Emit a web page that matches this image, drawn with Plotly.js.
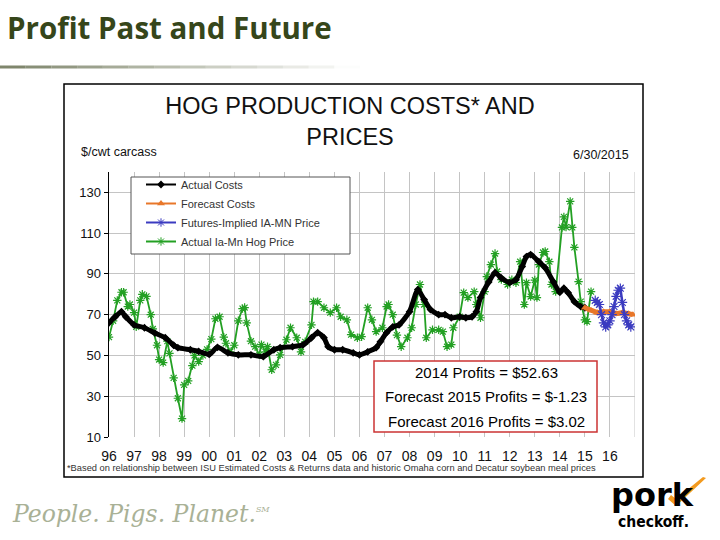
<!DOCTYPE html>
<html>
<head>
<meta charset="utf-8">
<script src="https://cdn.plot.ly/plotly-3.0.1.min.js"></script>
<style>html,body{margin:0;padding:0;background:#fff;}#chart{width:720px;height:540px;}</style>
</head>
<body>
<div id="chart"></div>
<script>
// ---------- data ----------
const costDates = ['1996-01','1996-04','1996-07','1996-09','1997-01','1997-06','1997-11','1998-04','1998-08','1998-10',
  '1999-04','1999-08','2000-01','2000-05','2000-10','2001-03','2001-09','2002-03','2002-08','2002-11',
  '2003-05','2003-10','2004-02','2004-05','2004-08','2004-10','2005-01','2005-05','2005-10','2006-01',
  '2006-05','2006-09','2006-11','2007-02','2007-05','2007-08','2008-01','2008-05','2008-08','2008-11',
  '2009-03','2009-06','2009-09','2010-01','2010-04','2010-07','2010-09','2010-11','2011-03','2011-06',
  '2011-09','2012-01','2012-04','2012-07','2012-09','2012-11','2013-03','2013-06','2013-10','2014-01',
  '2014-03','2014-05','2014-08','2014-11','2015-01'];
const costValues = [66,69,71.5,69,65,63.6,61,58.7,55,53.8,
  52.8,52,50.5,54,51.3,50.3,50.3,49.4,52.8,53.8,
  54.3,55.2,58.7,61.2,58.7,54.3,52.8,52.8,51.3,50.3,
  51.8,53.8,56.7,61.2,64,65,71.5,82.3,77.4,72.5,
  70,70,68.5,69,68.5,69,71.5,78.4,86,90.6,
  88,85.7,87.2,93.6,98.5,99.5,96,93,86,81,
  83,80.8,76.4,74,73.4];

const forecastCostDates = ['2015-01','2015-04','2015-07','2015-10','2016-01','2016-04','2016-07','2016-10','2016-12'];
const forecastCostValues = [73.4,72,71,71.5,71.5,70.5,71,70.5,70];

const futuresDates = ['2015-06','2015-07','2015-08','2015-09','2015-10','2015-11','2015-12','2016-01','2016-02',
  '2016-03','2016-04','2016-05','2016-06','2016-07','2016-08','2016-09','2016-10','2016-11'];
const futuresValues = [77,76,75,70,66,64,65,67,70,74,79,82,83,76,70,67,65,64];

const priceDates = ['1996-01','1996-03','1996-05','1996-07','1996-08','1996-10','1996-11','1997-01','1997-02','1997-04',
  '1997-05','1997-07','1997-09','1997-10','1997-12','1998-01','1998-03','1998-05','1998-06','1998-08',
  '1998-10','1998-12','1999-01','1999-03','1999-05','1999-06','1999-08','1999-10','1999-12','2000-02',
  '2000-04','2000-06','2000-08','2000-09','2000-11','2001-01','2001-03','2001-05','2001-06','2001-07',
  '2001-09','2001-11','2002-01','2002-02','2002-04','2002-05','2002-07','2002-09','2002-11','2003-02',
  '2003-04','2003-07','2003-09','2003-11','2004-02','2004-03','2004-05','2004-08','2004-11','2005-02',
  '2005-04','2005-07','2005-09','2005-12','2006-02','2006-05','2006-07','2006-09','2006-12','2007-02',
  '2007-03','2007-05','2007-07','2007-09','2007-12','2008-02','2008-04','2008-06','2008-08','2008-09',
  '2008-12','2009-03','2009-05','2009-07','2009-09','2009-10','2010-01','2010-03','2010-05','2010-08',
  '2010-09','2010-11','2011-01','2011-02','2011-04','2011-06','2011-07','2011-09','2011-12','2012-02',
  '2012-04','2012-06','2012-08','2012-09','2012-11','2013-01','2013-02','2013-03','2013-05','2013-06',
  '2013-08','2013-09','2013-11','2014-02','2014-03','2014-04','2014-06','2014-07','2014-08','2014-10',
  '2014-11','2015-01','2015-02','2015-04'];
const priceValues = [59,67,77,81,81,74,75,71,64,77,
  80,79,70,63,55,48,46.5,57,51,39,
  29,19,35.6,37.5,45,50,47,50,53,58,
  68,69,59,56,51.8,55,67,73,73.5,66,
  57,54.3,50.3,55.3,51.8,54.3,43,45.4,50.3,57.7,
  63.6,58.7,51.8,56.7,65,76.4,76.4,73.4,71,73.4,
  69,67.5,60.2,58.7,59.2,73.4,67.5,61.7,63.6,74,
  75,70,60,54.3,58.7,63.6,75,84.8,75,58.7,
  62.6,62.6,61.7,54.3,55.3,63.6,69,80.8,78.4,81.3,
  75,68.5,81.3,88.7,94.6,100,91.2,87.2,84.8,87.2,
  85.7,96,75,85.7,78.9,87,78.4,94.6,100.5,101,
  96,84.8,81.3,112.8,118,113,125.6,112.8,103,86.2,
  76.4,67.5,66.6,81.3];

const seriesNames = ['Actual Costs','Forecast Costs','Futures-Implied IA-MN Price','Actual Ia-Mn Hog Price'];
const tickYears = [1996,1997,1998,1999,2000,2001,2002,2003,2004,2005,2006,2007,2008,2009,2010,2011,2012,2013,2014,2015,2016];
const tickLabels = ['96','97','98','99','00','01','02','03','04','05','06','07','08','09','10','11','12','13','14','15','16'];
const yTicks = [10,30,50,70,90,110,130];
const profitLines = ['2014 Profits = $52.63','Forecast 2015 Profits = $-1.23','Forecast 2016 Profits = $3.02'];

// ---------- styling ----------
const C_BLACK = '#000000', C_ORANGE = '#e8772a', C_BLUE = '#3b3bc0', C_GREEN = '#23a023';
const FONT = 'Liberation Sans, Arial, sans-serif';
const P = x => x / 720;          // pixel -> paper x
const Q = y => 1 - y / 540;      // pixel -> paper y

const traces = [
  {x: priceDates, y: priceValues, name: seriesNames[3], mode: 'lines+markers', showlegend: false,
   line: {color: C_GREEN, width: 1.8}, marker: {symbol: 'asterisk-open', size: 7, color: C_GREEN, line: {color: C_GREEN, width: 1.2}}},
  {x: costDates, y: costValues, name: seriesNames[0], mode: 'lines+markers', showlegend: false,
   line: {color: C_BLACK, width: 5, shape: 'spline', smoothing: 0.6}, marker: {symbol: 'diamond', size: 6, color: C_BLACK}},
  {x: forecastCostDates, y: forecastCostValues, name: seriesNames[1], mode: 'lines+markers', showlegend: false,
   line: {color: C_ORANGE, width: 5}, marker: {symbol: 'triangle-up', size: 7, color: C_ORANGE}},
  {x: futuresDates, y: futuresValues, name: seriesNames[2], mode: 'lines+markers', showlegend: false,
   line: {color: C_BLUE, width: 2.5}, marker: {symbol: 'asterisk-open', size: 8, color: C_BLUE, line: {color: C_BLUE, width: 1.2}}},
  // legend entries (thin line samples, no data)
  {x: [null], y: [null], name: seriesNames[0], mode: 'lines+markers', line: {color: C_BLACK, width: 2}, marker: {symbol: 'diamond', size: 6, color: C_BLACK}},
  {x: [null], y: [null], name: seriesNames[1], mode: 'lines+markers', line: {color: C_ORANGE, width: 2}, marker: {symbol: 'triangle-up', size: 7, color: C_ORANGE}},
  {x: [null], y: [null], name: seriesNames[2], mode: 'lines+markers', line: {color: C_BLUE, width: 2}, marker: {symbol: 'asterisk-open', size: 7, line: {color: C_BLUE, width: 1}}},
  {x: [null], y: [null], name: seriesNames[3], mode: 'lines+markers', line: {color: C_GREEN, width: 2}, marker: {symbol: 'asterisk-open', size: 7, line: {color: C_GREEN, width: 1}}}
];

const shapes = [
  // chart frame
  {type: 'rect', xref: 'paper', yref: 'paper', x0: P(64), x1: P(643), y0: Q(84), y1: Q(477), line: {color: '#000', width: 1.5}, layer: 'below'},
  // gridline at the right end (2017)
  {type: 'line', xref: 'x', yref: 'paper', x0: '2017-01-01', x1: '2017-01-01', y0: Q(437), y1: Q(172), line: {color: '#c4c4c4', width: 1}, layer: 'below'},
  // legend box
  {type: 'rect', xref: 'paper', yref: 'paper', x0: P(131), x1: P(350), y0: Q(177), y1: Q(254), fillcolor: '#fff', line: {color: '#555', width: 1}, layer: 'above'},
  // profits box
  {type: 'rect', xref: 'paper', yref: 'paper', x0: P(374), x1: P(597), y0: Q(361), y1: Q(432), fillcolor: '#fff', line: {color: '#cc3333', width: 1.5}, layer: 'above'},
  // pork checkoff check mark
  {type: 'path', xref: 'paper', yref: 'paper', path: `M ${P(668)} ${Q(499)} L ${P(676)} ${Q(506)} L ${P(706)} ${Q(478)} L ${P(703)} ${Q(477)} L ${P(676)} ${Q(499)} L ${P(671)} ${Q(495)} Z`, fillcolor: '#f39a1e', line: {width: 0}}
];
// fading rule under slide title
const ruleSteps = 14;
for (let i = 0; i < ruleSteps; i++) {
  const x0 = i * 360 / ruleSteps, x1 = (i + 1) * 360 / ruleSteps;
  shapes.push({type: 'rect', xref: 'paper', yref: 'paper', x0: P(x0), x1: P(x1), y0: Q(68.5), y1: Q(65.5),
    fillcolor: 'rgb(120,128,100)', opacity: Math.max(0, 0.95 - i / ruleSteps), line: {width: 0}});
}

const annotations = [
  {text: '<b>Profit Past and Future</b>', xref: 'paper', yref: 'paper', x: P(5), y: Q(27), xanchor: 'left', yanchor: 'middle', showarrow: false,
   font: {family: 'Open Sans, sans-serif', size: 29.5, color: '#36461a'}},
  {text: '$/cwt carcass', xref: 'paper', yref: 'paper', x: P(79), y: Q(152), xanchor: 'left', yanchor: 'middle', showarrow: false,
   font: {family: FONT, size: 12.5, color: '#111'}},
  {text: '6/30/2015', xref: 'paper', yref: 'paper', x: P(631), y: Q(155), xanchor: 'right', yanchor: 'middle', showarrow: false,
   font: {family: FONT, size: 12.5, color: '#111'}},
  {text: '*Based on relationship between ISU Estimated Costs &amp; Returns data and historic Omaha corn and Decatur soybean meal prices',
   xref: 'paper', yref: 'paper', x: P(65), y: Q(468), xanchor: 'left', yanchor: 'middle', showarrow: false,
   font: {family: FONT, size: 9.3, color: '#333'}},
  {text: 'People. Pigs. Planet.<sup><span style="font-size:8px">SM</span></sup>', xref: 'paper', yref: 'paper', x: P(10), y: Q(514), xanchor: 'left', yanchor: 'middle', showarrow: false,
   font: {family: 'DejaVu Serif, serif', size: 23.5, color: '#a9b196', style: 'italic'}},
  {text: '<b>pork</b>', xref: 'paper', yref: 'paper', x: P(609), y: Q(495), xanchor: 'left', yanchor: 'middle', showarrow: false,
   font: {family: 'DejaVu Sans, sans-serif', size: 32, color: '#000'}},
  {text: '<b>checkoff.</b>', xref: 'paper', yref: 'paper', x: P(616), y: Q(522), xanchor: 'left', yanchor: 'middle', showarrow: false,
   font: {family: 'DejaVu Sans Condensed, DejaVu Sans, sans-serif', size: 15.5, color: '#000'}}
];
const profitY = [372, 396, 421];
profitLines.forEach((t, i) => annotations.push({text: t, xref: 'paper', yref: 'paper', x: P(486), y: Q(profitY[i]),
  xanchor: 'center', yanchor: 'middle', showarrow: false, font: {family: FONT, size: 15, color: '#000'}}));

const layout = {
  width: 720, height: 540,
  margin: {l: 0, r: 0, t: 0, b: 0},
  paper_bgcolor: '#fff', plot_bgcolor: '#fff',
  title: {text: 'HOG PRODUCTION COSTS* AND<br>PRICES', x: P(350), xanchor: 'center', y: Q(114), yanchor: 'middle',
    font: {family: FONT, size: 23.5, color: '#111'}},
  xaxis: {type: 'date', domain: [P(109), P(635)], range: ['1996-01-01', '2017-01-01'],
    tickvals: tickYears.map(y => y + '-01-01'), ticktext: tickLabels,
    showgrid: true, gridcolor: '#c4c4c4', gridwidth: 1, zeroline: false, showline: false,
    ticks: 'outside', ticklen: 6, tickcolor: 'rgba(0,0,0,0)',
    tickfont: {family: FONT, size: 14, color: '#111'}},
  yaxis: {domain: [Q(437), Q(172)], range: [10, 140], tickvals: yTicks,
    showgrid: true, gridcolor: '#c4c4c4', gridwidth: 1, zeroline: false,
    showline: true, linecolor: '#000', linewidth: 1.5,
    ticks: 'outside', ticklen: 4, tickcolor: '#000',
    tickfont: {family: FONT, size: 13, color: '#111'}},
  legend: {x: P(141), y: Q(170), xanchor: 'left', yanchor: 'top', bgcolor: 'rgba(0,0,0,0)', borderwidth: 0,
    font: {family: FONT, size: 11, color: '#333'}, itemwidth: 30, tracegroupgap: 0},
  shapes: shapes,
  annotations: annotations,
  showlegend: true
};

Plotly.newPlot('chart', traces, layout, {staticPlot: true, displayModeBar: false});
</script>
</body>
</html>
